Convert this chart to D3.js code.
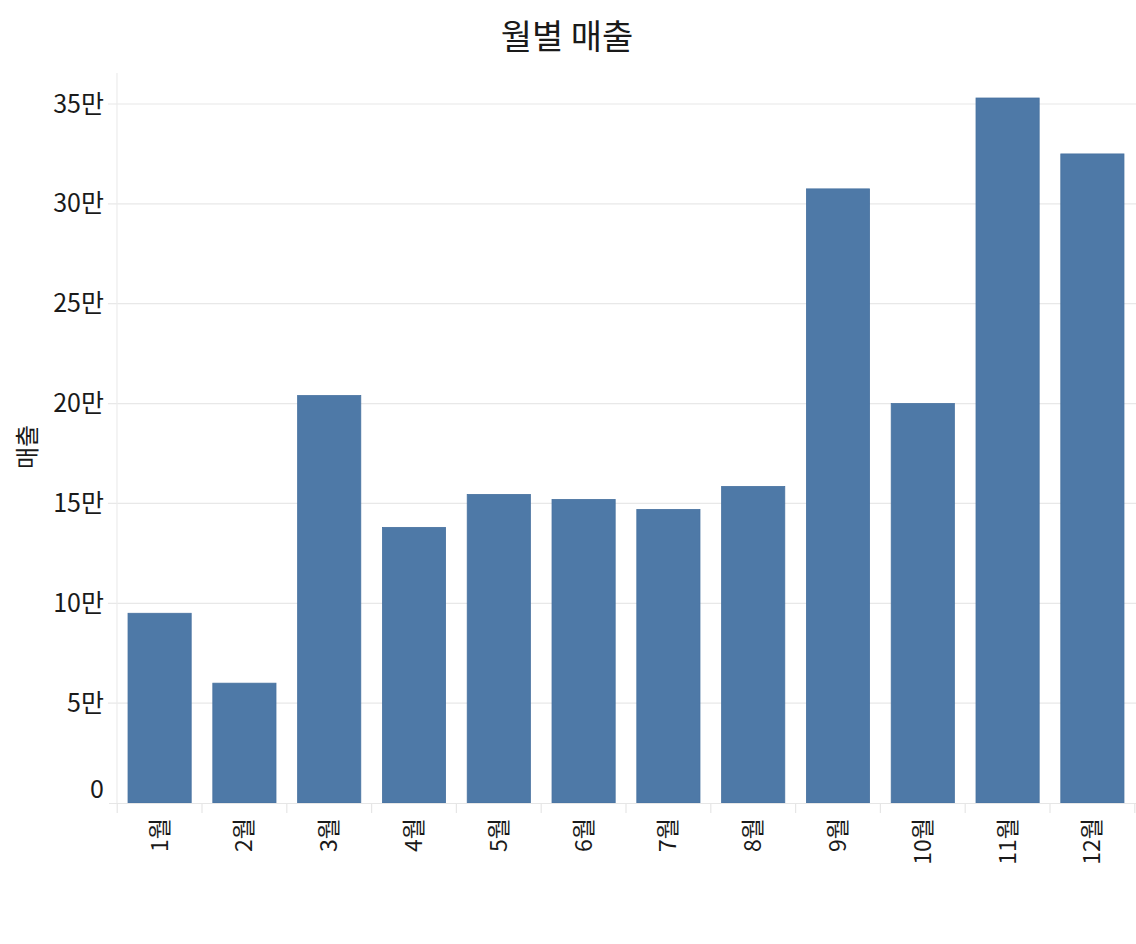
<!DOCTYPE html>
<html><head><meta charset="utf-8">
<script src="https://cdn.jsdelivr.net/npm/d3@7"></script>
<style>body{margin:0;background:#fff;} text{font-family:"Noto Sans CJK KR","Noto Sans",sans-serif;fill:#1a1a1a;}</style>
</head><body><svg id="c" width="1136" height="944"></svg>
<script>
const months = ["1월","2월","3월","4월","5월","6월","7월","8월","9월","10월","11월","12월"];
const sales = [95000, 60000, 204000, 138000, 154500, 152000, 147000, 158500, 307500, 200000, 353000, 325000];
const yTicks = [0, 50000, 100000, 150000, 200000, 250000, 300000, 350000];
const yTickLabels = ["0","5만","10만","15만","20만","25만","30만","35만"];
const title = "월별 매출";
const yTitle = "매출";

const svg = d3.select("#c");
const L = 117, R = 1135, T = 73, B = 803;
const x = d3.scaleBand().domain(months).range([L, R]).paddingInner(0.255).paddingOuter(0.13);
const y = d3.scaleLinear().domain([0, 350000]).range([B, 104]);

svg.append("rect").attr("width",1136).attr("height",944).attr("fill","#fff");

// grid
svg.append("g").selectAll("line").data(yTicks.slice(1)).join("line")
  .attr("x1",108).attr("x2",1136).attr("y1",d=>y(d)).attr("y2",d=>y(d))
  .attr("stroke","#e8e8e8").attr("stroke-width",1.2);

// left axis line
svg.append("line").attr("x1",L).attr("x2",L).attr("y1",T).attr("y2",B).attr("stroke","#ececec").attr("stroke-width",1.2);

// y axis labels
const yAxis = d3.axisLeft(y).tickValues(yTicks).tickFormat((d,i)=>yTickLabels[i]).tickSize(0).tickPadding(13);
const gy = svg.append("g").attr("transform",`translate(${L},0)`).call(yAxis);
gy.select(".domain").remove();
gy.selectAll("text").style("font-size","25px").attr("fill","#1a1a1a").attr("dy",d=>d===0?"-0.23em":"0.32em");

// bars
svg.append("g").selectAll("rect").data(months).join("rect")
  .attr("x",d=>x(d)).attr("width",x.bandwidth())
  .attr("y",(d,i)=>y(sales[i])).attr("height",(d,i)=>B - y(sales[i]))
  .attr("fill","#4e79a7").attr("stroke","#4872a0").attr("stroke-width",0.8);

// x baseline
svg.append("line").attr("x1",109).attr("x2",1136).attr("y1",B+0.5).attr("y2",B+0.5).attr("stroke","#e6e6e6").attr("stroke-width",1.2);
// category separators
const step = x.step();
const seps = months.map((m,i)=>x(m) + x.bandwidth()/2 - step/2);
seps.push(x(months[months.length-1]) + x.bandwidth()/2 + step/2);
svg.append("g").selectAll("line").data(seps).join("line")
  .attr("x1",d=>d).attr("x2",d=>d).attr("y1",B).attr("y2",B+10)
  .attr("stroke","#e6e6e6").attr("stroke-width",1.2);

// x labels
svg.append("g").selectAll("text").data(months).join("text")
  .attr("transform",d=>`translate(${x(d)+x.bandwidth()/2},818) rotate(-90)`)
  .attr("text-anchor","end").attr("dy","0.35em")
  .style("font-size","23px").text(d=>d);

// title
svg.append("text").attr("x",567).attr("y",37).attr("text-anchor","middle").attr("dy","0.35em")
  .style("font-size","34px").style("font-weight","400").text(title);

// y title
svg.append("text").attr("transform","translate(28,447) rotate(-90)").attr("text-anchor","middle").attr("dy","0.35em")
  .style("font-size","24px").text(yTitle);
</script></body></html>
